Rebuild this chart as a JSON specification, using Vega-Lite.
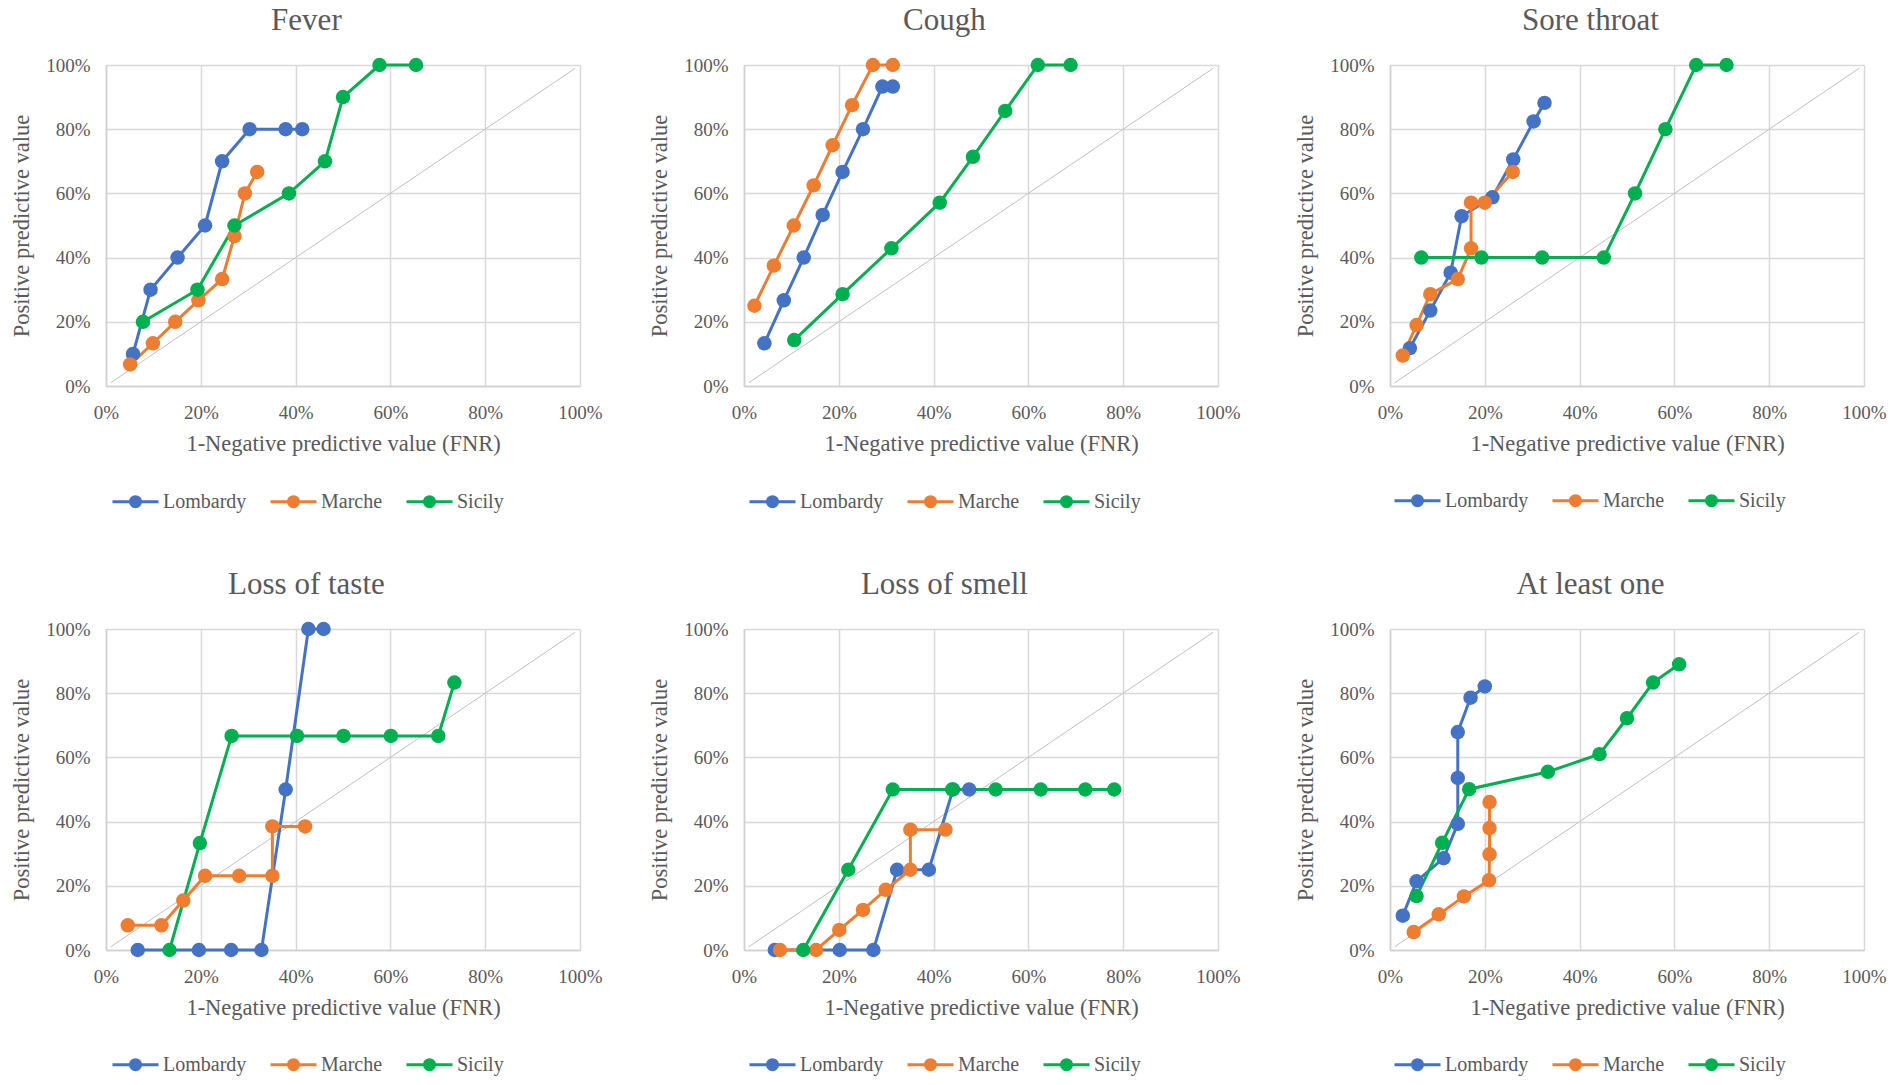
{
  "$schema": "https://vega.github.io/schema/vega-lite/v6.json",
  "background": "white",
  "padding": {"left": 10, "top": 5, "right": 0, "bottom": 0},
  "datasets": {
    "diag": [{"fnr": 1, "ppv": 1}, {"fnr": 99, "ppv": 99}],
    "pts": [
      {"panel": "Fever", "region": "Lombardy", "o": 1, "fnr": 5.7, "ppv": 10},
      {"panel": "Fever", "region": "Lombardy", "o": 2, "fnr": 9.4, "ppv": 30},
      {"panel": "Fever", "region": "Lombardy", "o": 3, "fnr": 15.1, "ppv": 40},
      {"panel": "Fever", "region": "Lombardy", "o": 4, "fnr": 20.9, "ppv": 50},
      {"panel": "Fever", "region": "Lombardy", "o": 5, "fnr": 24.5, "ppv": 70},
      {"panel": "Fever", "region": "Lombardy", "o": 6, "fnr": 30.3, "ppv": 80},
      {"panel": "Fever", "region": "Lombardy", "o": 7, "fnr": 37.9, "ppv": 80},
      {"panel": "Fever", "region": "Lombardy", "o": 8, "fnr": 41.4, "ppv": 80},
      {"panel": "Fever", "region": "Marche", "o": 1, "fnr": 5.1, "ppv": 6.7},
      {"panel": "Fever", "region": "Marche", "o": 2, "fnr": 9.9, "ppv": 13.3},
      {"panel": "Fever", "region": "Marche", "o": 3, "fnr": 14.6, "ppv": 20},
      {"panel": "Fever", "region": "Marche", "o": 4, "fnr": 19.5, "ppv": 26.7},
      {"panel": "Fever", "region": "Marche", "o": 5, "fnr": 24.5, "ppv": 33.3},
      {"panel": "Fever", "region": "Marche", "o": 6, "fnr": 27.1, "ppv": 46.7},
      {"panel": "Fever", "region": "Marche", "o": 7, "fnr": 29.3, "ppv": 60},
      {"panel": "Fever", "region": "Marche", "o": 8, "fnr": 31.9, "ppv": 66.7},
      {"panel": "Fever", "region": "Sicily", "o": 1, "fnr": 7.8, "ppv": 20},
      {"panel": "Fever", "region": "Sicily", "o": 2, "fnr": 19.3, "ppv": 30},
      {"panel": "Fever", "region": "Sicily", "o": 3, "fnr": 27.1, "ppv": 50},
      {"panel": "Fever", "region": "Sicily", "o": 4, "fnr": 38.6, "ppv": 60},
      {"panel": "Fever", "region": "Sicily", "o": 5, "fnr": 46.2, "ppv": 70},
      {"panel": "Fever", "region": "Sicily", "o": 6, "fnr": 50, "ppv": 90},
      {"panel": "Fever", "region": "Sicily", "o": 7, "fnr": 57.7, "ppv": 100},
      {"panel": "Fever", "region": "Sicily", "o": 8, "fnr": 65.4, "ppv": 100},

      {"panel": "Cough", "region": "Lombardy", "o": 1, "fnr": 4.3, "ppv": 13.3},
      {"panel": "Cough", "region": "Lombardy", "o": 2, "fnr": 8.4, "ppv": 26.7},
      {"panel": "Cough", "region": "Lombardy", "o": 3, "fnr": 12.6, "ppv": 40},
      {"panel": "Cough", "region": "Lombardy", "o": 4, "fnr": 16.6, "ppv": 53.3},
      {"panel": "Cough", "region": "Lombardy", "o": 5, "fnr": 20.8, "ppv": 66.7},
      {"panel": "Cough", "region": "Lombardy", "o": 6, "fnr": 25.1, "ppv": 80},
      {"panel": "Cough", "region": "Lombardy", "o": 7, "fnr": 29.2, "ppv": 93.3},
      {"panel": "Cough", "region": "Lombardy", "o": 8, "fnr": 31.4, "ppv": 93.3},
      {"panel": "Cough", "region": "Marche", "o": 1, "fnr": 2.2, "ppv": 25},
      {"panel": "Cough", "region": "Marche", "o": 2, "fnr": 6.3, "ppv": 37.5},
      {"panel": "Cough", "region": "Marche", "o": 3, "fnr": 10.5, "ppv": 50},
      {"panel": "Cough", "region": "Marche", "o": 4, "fnr": 14.7, "ppv": 62.5},
      {"panel": "Cough", "region": "Marche", "o": 5, "fnr": 18.7, "ppv": 75},
      {"panel": "Cough", "region": "Marche", "o": 6, "fnr": 22.8, "ppv": 87.5},
      {"panel": "Cough", "region": "Marche", "o": 7, "fnr": 27.2, "ppv": 100},
      {"panel": "Cough", "region": "Marche", "o": 8, "fnr": 31.4, "ppv": 100},
      {"panel": "Cough", "region": "Sicily", "o": 1, "fnr": 10.6, "ppv": 14.3},
      {"panel": "Cough", "region": "Sicily", "o": 2, "fnr": 20.8, "ppv": 28.6},
      {"panel": "Cough", "region": "Sicily", "o": 3, "fnr": 31.1, "ppv": 42.9},
      {"panel": "Cough", "region": "Sicily", "o": 4, "fnr": 41.3, "ppv": 57.1},
      {"panel": "Cough", "region": "Sicily", "o": 5, "fnr": 48.3, "ppv": 71.4},
      {"panel": "Cough", "region": "Sicily", "o": 6, "fnr": 55.1, "ppv": 85.7},
      {"panel": "Cough", "region": "Sicily", "o": 7, "fnr": 62, "ppv": 100},
      {"panel": "Cough", "region": "Sicily", "o": 8, "fnr": 68.9, "ppv": 100},

      {"panel": "Sore throat", "region": "Lombardy", "o": 1, "fnr": 4.2, "ppv": 11.8},
      {"panel": "Sore throat", "region": "Lombardy", "o": 2, "fnr": 8.5, "ppv": 23.5},
      {"panel": "Sore throat", "region": "Lombardy", "o": 3, "fnr": 12.8, "ppv": 35.3},
      {"panel": "Sore throat", "region": "Lombardy", "o": 4, "fnr": 15.1, "ppv": 52.9},
      {"panel": "Sore throat", "region": "Lombardy", "o": 5, "fnr": 21.6, "ppv": 58.8},
      {"panel": "Sore throat", "region": "Lombardy", "o": 6, "fnr": 26, "ppv": 70.6},
      {"panel": "Sore throat", "region": "Lombardy", "o": 7, "fnr": 30.3, "ppv": 82.4},
      {"panel": "Sore throat", "region": "Lombardy", "o": 8, "fnr": 32.6, "ppv": 88.2},
      {"panel": "Sore throat", "region": "Marche", "o": 1, "fnr": 2.7, "ppv": 9.5},
      {"panel": "Sore throat", "region": "Marche", "o": 2, "fnr": 5.6, "ppv": 19},
      {"panel": "Sore throat", "region": "Marche", "o": 3, "fnr": 8.5, "ppv": 28.6},
      {"panel": "Sore throat", "region": "Marche", "o": 4, "fnr": 14.3, "ppv": 33.3},
      {"panel": "Sore throat", "region": "Marche", "o": 5, "fnr": 17.1, "ppv": 42.9},
      {"panel": "Sore throat", "region": "Marche", "o": 6, "fnr": 17.1, "ppv": 57.1},
      {"panel": "Sore throat", "region": "Marche", "o": 7, "fnr": 20, "ppv": 57.1},
      {"panel": "Sore throat", "region": "Marche", "o": 8, "fnr": 25.9, "ppv": 66.7},
      {"panel": "Sore throat", "region": "Sicily", "o": 1, "fnr": 6.6, "ppv": 40},
      {"panel": "Sore throat", "region": "Sicily", "o": 2, "fnr": 19.3, "ppv": 40},
      {"panel": "Sore throat", "region": "Sicily", "o": 3, "fnr": 32.1, "ppv": 40},
      {"panel": "Sore throat", "region": "Sicily", "o": 4, "fnr": 45.1, "ppv": 40},
      {"panel": "Sore throat", "region": "Sicily", "o": 5, "fnr": 51.7, "ppv": 60},
      {"panel": "Sore throat", "region": "Sicily", "o": 6, "fnr": 58.1, "ppv": 80},
      {"panel": "Sore throat", "region": "Sicily", "o": 7, "fnr": 64.6, "ppv": 100},
      {"panel": "Sore throat", "region": "Sicily", "o": 8, "fnr": 71, "ppv": 100},

      {"panel": "Loss of taste", "region": "Lombardy", "o": 1, "fnr": 6.7, "ppv": 0},
      {"panel": "Loss of taste", "region": "Lombardy", "o": 2, "fnr": 19.6, "ppv": 0},
      {"panel": "Loss of taste", "region": "Lombardy", "o": 3, "fnr": 26.4, "ppv": 0},
      {"panel": "Loss of taste", "region": "Lombardy", "o": 4, "fnr": 32.8, "ppv": 0},
      {"panel": "Loss of taste", "region": "Lombardy", "o": 5, "fnr": 37.9, "ppv": 50},
      {"panel": "Loss of taste", "region": "Lombardy", "o": 6, "fnr": 42.7, "ppv": 100},
      {"panel": "Loss of taste", "region": "Lombardy", "o": 7, "fnr": 45.9, "ppv": 100},
      {"panel": "Loss of taste", "region": "Marche", "o": 1, "fnr": 4.6, "ppv": 7.7},
      {"panel": "Loss of taste", "region": "Marche", "o": 2, "fnr": 11.7, "ppv": 7.7},
      {"panel": "Loss of taste", "region": "Marche", "o": 3, "fnr": 16.3, "ppv": 15.4},
      {"panel": "Loss of taste", "region": "Marche", "o": 4, "fnr": 20.9, "ppv": 23.1},
      {"panel": "Loss of taste", "region": "Marche", "o": 5, "fnr": 28.1, "ppv": 23.1},
      {"panel": "Loss of taste", "region": "Marche", "o": 6, "fnr": 35.1, "ppv": 23.1},
      {"panel": "Loss of taste", "region": "Marche", "o": 7, "fnr": 35.1, "ppv": 38.5},
      {"panel": "Loss of taste", "region": "Marche", "o": 8, "fnr": 42, "ppv": 38.5},
      {"panel": "Loss of taste", "region": "Sicily", "o": 1, "fnr": 13.4, "ppv": 0},
      {"panel": "Loss of taste", "region": "Sicily", "o": 2, "fnr": 19.8, "ppv": 33.3},
      {"panel": "Loss of taste", "region": "Sicily", "o": 3, "fnr": 26.5, "ppv": 66.7},
      {"panel": "Loss of taste", "region": "Sicily", "o": 4, "fnr": 40.3, "ppv": 66.7},
      {"panel": "Loss of taste", "region": "Sicily", "o": 5, "fnr": 50.1, "ppv": 66.7},
      {"panel": "Loss of taste", "region": "Sicily", "o": 6, "fnr": 60.1, "ppv": 66.7},
      {"panel": "Loss of taste", "region": "Sicily", "o": 7, "fnr": 70.1, "ppv": 66.7},
      {"panel": "Loss of taste", "region": "Sicily", "o": 8, "fnr": 73.5, "ppv": 83.3},

      {"panel": "Loss of smell", "region": "Lombardy", "o": 1, "fnr": 6.5, "ppv": 0},
      {"panel": "Loss of smell", "region": "Lombardy", "o": 2, "fnr": 20.2, "ppv": 0},
      {"panel": "Loss of smell", "region": "Lombardy", "o": 3, "fnr": 27.3, "ppv": 0},
      {"panel": "Loss of smell", "region": "Lombardy", "o": 4, "fnr": 32.3, "ppv": 25},
      {"panel": "Loss of smell", "region": "Lombardy", "o": 5, "fnr": 39, "ppv": 25},
      {"panel": "Loss of smell", "region": "Lombardy", "o": 6, "fnr": 44.1, "ppv": 50},
      {"panel": "Loss of smell", "region": "Lombardy", "o": 7, "fnr": 47.5, "ppv": 50},
      {"panel": "Loss of smell", "region": "Marche", "o": 1, "fnr": 7.6, "ppv": 0},
      {"panel": "Loss of smell", "region": "Marche", "o": 2, "fnr": 15.2, "ppv": 0},
      {"panel": "Loss of smell", "region": "Marche", "o": 3, "fnr": 20.1, "ppv": 6.25},
      {"panel": "Loss of smell", "region": "Marche", "o": 4, "fnr": 25.1, "ppv": 12.5},
      {"panel": "Loss of smell", "region": "Marche", "o": 5, "fnr": 29.9, "ppv": 18.75},
      {"panel": "Loss of smell", "region": "Marche", "o": 6, "fnr": 35.1, "ppv": 25},
      {"panel": "Loss of smell", "region": "Marche", "o": 7, "fnr": 35.1, "ppv": 37.5},
      {"panel": "Loss of smell", "region": "Marche", "o": 8, "fnr": 42.5, "ppv": 37.5},
      {"panel": "Loss of smell", "region": "Sicily", "o": 1, "fnr": 12.5, "ppv": 0},
      {"panel": "Loss of smell", "region": "Sicily", "o": 2, "fnr": 22, "ppv": 25},
      {"panel": "Loss of smell", "region": "Sicily", "o": 3, "fnr": 31.4, "ppv": 50},
      {"panel": "Loss of smell", "region": "Sicily", "o": 4, "fnr": 43.9, "ppv": 50},
      {"panel": "Loss of smell", "region": "Sicily", "o": 5, "fnr": 53.1, "ppv": 50},
      {"panel": "Loss of smell", "region": "Sicily", "o": 6, "fnr": 62.6, "ppv": 50},
      {"panel": "Loss of smell", "region": "Sicily", "o": 7, "fnr": 72, "ppv": 50},
      {"panel": "Loss of smell", "region": "Sicily", "o": 8, "fnr": 78.1, "ppv": 50},

      {"panel": "At least one", "region": "Lombardy", "o": 1, "fnr": 2.7, "ppv": 10.7},
      {"panel": "At least one", "region": "Lombardy", "o": 2, "fnr": 5.6, "ppv": 21.4},
      {"panel": "At least one", "region": "Lombardy", "o": 3, "fnr": 11.3, "ppv": 28.6},
      {"panel": "At least one", "region": "Lombardy", "o": 4, "fnr": 14.3, "ppv": 39.3},
      {"panel": "At least one", "region": "Lombardy", "o": 5, "fnr": 14.3, "ppv": 53.6},
      {"panel": "At least one", "region": "Lombardy", "o": 6, "fnr": 14.3, "ppv": 67.9},
      {"panel": "At least one", "region": "Lombardy", "o": 7, "fnr": 17, "ppv": 78.6},
      {"panel": "At least one", "region": "Lombardy", "o": 8, "fnr": 20, "ppv": 82.1},
      {"panel": "At least one", "region": "Marche", "o": 1, "fnr": 5, "ppv": 5.6},
      {"panel": "At least one", "region": "Marche", "o": 2, "fnr": 10.3, "ppv": 11.1},
      {"panel": "At least one", "region": "Marche", "o": 3, "fnr": 15.6, "ppv": 16.7},
      {"panel": "At least one", "region": "Marche", "o": 4, "fnr": 20.9, "ppv": 21.7},
      {"panel": "At least one", "region": "Marche", "o": 5, "fnr": 21, "ppv": 29.8},
      {"panel": "At least one", "region": "Marche", "o": 6, "fnr": 21, "ppv": 38},
      {"panel": "At least one", "region": "Marche", "o": 7, "fnr": 21, "ppv": 46.1},
      {"panel": "At least one", "region": "Sicily", "o": 1, "fnr": 5.6, "ppv": 16.8},
      {"panel": "At least one", "region": "Sicily", "o": 2, "fnr": 11, "ppv": 33.4},
      {"panel": "At least one", "region": "Sicily", "o": 3, "fnr": 16.7, "ppv": 50.1},
      {"panel": "At least one", "region": "Sicily", "o": 4, "fnr": 33.3, "ppv": 55.5},
      {"panel": "At least one", "region": "Sicily", "o": 5, "fnr": 44.2, "ppv": 61},
      {"panel": "At least one", "region": "Sicily", "o": 6, "fnr": 50, "ppv": 72.2},
      {"panel": "At least one", "region": "Sicily", "o": 7, "fnr": 55.5, "ppv": 83.3},
      {"panel": "At least one", "region": "Sicily", "o": 8, "fnr": 61, "ppv": 89}
    ]
  },
  "resolve": {"scale": {"color": "independent"}, "legend": {"color": "independent"}},
  "spacing": 56,
  "vconcat": [
    {
      "resolve": {"scale": {"color": "independent"}, "legend": {"color": "independent"}},
      "spacing": 53,
      "hconcat": [
        {
          "resolve": {"scale": {"color": "independent"}, "legend": {"color": "independent"}},
          "spacing": 45,
          "hconcat": [
            {
              "title": "Fever", "width": 474, "height": 321,
              "layer": [
                {"data": {"name": "diag"}, "mark": {"type": "line", "color": "#c0c0c0", "strokeWidth": 1},
                 "encoding": {"x": {"field": "fnr", "type": "quantitative", "title": "1-Negative predictive value (FNR)", "scale": {"domain": [0, 100], "nice": false}, "axis": {"values": [0, 20, 40, 60, 80, 100], "labelExpr": "datum.value + '%'"}},
                              "y": {"field": "ppv", "type": "quantitative", "title": "Positive predictive value", "scale": {"domain": [0, 100], "nice": false}, "axis": {"values": [0, 20, 40, 60, 80, 100], "labelExpr": "datum.value + '%'"}}}},
                {"data": {"name": "pts"}, "transform": [{"filter": "datum.panel === 'Fever'"}], "mark": {"type": "line", "strokeWidth": 3},
                 "encoding": {"x": {"field": "fnr", "type": "quantitative"}, "y": {"field": "ppv", "type": "quantitative"}, "order": {"field": "o", "type": "quantitative"},
                              "color": {"field": "region", "type": "nominal", "scale": {"domain": ["Lombardy", "Marche", "Sicily"], "range": ["#4472C4", "#ED7D31", "#00B050"]},
                                        "legend": {"title": null, "orient": "none", "legendX": 5, "legendY": 412, "direction": "horizontal", "symbolType": "M-1,0L1,0M0.22,0A0.22,0.22 0 1,1 -0.22,0A0.22,0.22 0 1,1 0.22,0Z", "symbolStrokeWidth": 3}}}},
                {"data": {"name": "pts"}, "transform": [{"filter": "datum.panel === 'Fever'"}], "mark": {"type": "point", "filled": true, "size": 210, "opacity": 1},
                 "encoding": {"x": {"field": "fnr", "type": "quantitative"}, "y": {"field": "ppv", "type": "quantitative"},
                              "color": {"field": "region", "type": "nominal", "scale": {"domain": ["Lombardy", "Marche", "Sicily"], "range": ["#4472C4", "#ED7D31", "#00B050"]},
                                        "legend": {"title": null, "orient": "none", "legendX": 5, "legendY": 412, "direction": "horizontal", "symbolType": "M-1,0L1,0M0.22,0A0.22,0.22 0 1,1 -0.22,0A0.22,0.22 0 1,1 0.22,0Z", "symbolStrokeWidth": 3}}}}
              ]
            },
            {
              "title": "Cough", "width": 474, "height": 321,
              "layer": [
                {"data": {"name": "diag"}, "mark": {"type": "line", "color": "#c0c0c0", "strokeWidth": 1},
                 "encoding": {"x": {"field": "fnr", "type": "quantitative", "title": "1-Negative predictive value (FNR)", "scale": {"domain": [0, 100], "nice": false}, "axis": {"values": [0, 20, 40, 60, 80, 100], "labelExpr": "datum.value + '%'"}},
                              "y": {"field": "ppv", "type": "quantitative", "title": "Positive predictive value", "scale": {"domain": [0, 100], "nice": false}, "axis": {"values": [0, 20, 40, 60, 80, 100], "labelExpr": "datum.value + '%'"}}}},
                {"data": {"name": "pts"}, "transform": [{"filter": "datum.panel === 'Cough'"}], "mark": {"type": "line", "strokeWidth": 3},
                 "encoding": {"x": {"field": "fnr", "type": "quantitative"}, "y": {"field": "ppv", "type": "quantitative"}, "order": {"field": "o", "type": "quantitative"},
                              "color": {"field": "region", "type": "nominal", "scale": {"domain": ["Lombardy", "Marche", "Sicily"], "range": ["#4472C4", "#ED7D31", "#00B050"]},
                                        "legend": {"title": null, "orient": "none", "legendX": 4, "legendY": 412, "direction": "horizontal", "symbolType": "M-1,0L1,0M0.22,0A0.22,0.22 0 1,1 -0.22,0A0.22,0.22 0 1,1 0.22,0Z", "symbolStrokeWidth": 3}}}},
                {"data": {"name": "pts"}, "transform": [{"filter": "datum.panel === 'Cough'"}], "mark": {"type": "point", "filled": true, "size": 210, "opacity": 1},
                 "encoding": {"x": {"field": "fnr", "type": "quantitative"}, "y": {"field": "ppv", "type": "quantitative"},
                              "color": {"field": "region", "type": "nominal", "scale": {"domain": ["Lombardy", "Marche", "Sicily"], "range": ["#4472C4", "#ED7D31", "#00B050"]},
                                        "legend": {"title": null, "orient": "none", "legendX": 4, "legendY": 412, "direction": "horizontal", "symbolType": "M-1,0L1,0M0.22,0A0.22,0.22 0 1,1 -0.22,0A0.22,0.22 0 1,1 0.22,0Z", "symbolStrokeWidth": 3}}}}
              ]
            }
          ]
        },
        {
          "title": "Sore throat", "width": 474, "height": 321,
          "layer": [
            {"data": {"name": "diag"}, "mark": {"type": "line", "color": "#c0c0c0", "strokeWidth": 1},
             "encoding": {"x": {"field": "fnr", "type": "quantitative", "title": "1-Negative predictive value (FNR)", "scale": {"domain": [0, 100], "nice": false}, "axis": {"values": [0, 20, 40, 60, 80, 100], "labelExpr": "datum.value + '%'"}},
                          "y": {"field": "ppv", "type": "quantitative", "title": "Positive predictive value", "scale": {"domain": [0, 100], "nice": false}, "axis": {"values": [0, 20, 40, 60, 80, 100], "labelExpr": "datum.value + '%'"}}}},
            {"data": {"name": "pts"}, "transform": [{"filter": "datum.panel === 'Sore throat'"}], "mark": {"type": "line", "strokeWidth": 3},
             "encoding": {"x": {"field": "fnr", "type": "quantitative"}, "y": {"field": "ppv", "type": "quantitative"}, "order": {"field": "o", "type": "quantitative"},
                          "color": {"field": "region", "type": "nominal", "scale": {"domain": ["Lombardy", "Marche", "Sicily"], "range": ["#4472C4", "#ED7D31", "#00B050"]},
                                    "legend": {"title": null, "orient": "none", "legendX": 3, "legendY": 411, "direction": "horizontal", "symbolType": "M-1,0L1,0M0.22,0A0.22,0.22 0 1,1 -0.22,0A0.22,0.22 0 1,1 0.22,0Z", "symbolStrokeWidth": 3}}}},
            {"data": {"name": "pts"}, "transform": [{"filter": "datum.panel === 'Sore throat'"}], "mark": {"type": "point", "filled": true, "size": 210, "opacity": 1},
             "encoding": {"x": {"field": "fnr", "type": "quantitative"}, "y": {"field": "ppv", "type": "quantitative"},
                          "color": {"field": "region", "type": "nominal", "scale": {"domain": ["Lombardy", "Marche", "Sicily"], "range": ["#4472C4", "#ED7D31", "#00B050"]},
                                    "legend": {"title": null, "orient": "none", "legendX": 3, "legendY": 411, "direction": "horizontal", "symbolType": "M-1,0L1,0M0.22,0A0.22,0.22 0 1,1 -0.22,0A0.22,0.22 0 1,1 0.22,0Z", "symbolStrokeWidth": 3}}}}
          ]
        }
      ]
    },
    {
      "resolve": {"scale": {"color": "independent"}, "legend": {"color": "independent"}},
      "spacing": 53,
      "hconcat": [
        {
          "resolve": {"scale": {"color": "independent"}, "legend": {"color": "independent"}},
          "spacing": 45,
          "hconcat": [
            {
              "title": "Loss of taste", "width": 474, "height": 321,
              "layer": [
                {"data": {"name": "diag"}, "mark": {"type": "line", "color": "#c0c0c0", "strokeWidth": 1},
                 "encoding": {"x": {"field": "fnr", "type": "quantitative", "title": "1-Negative predictive value (FNR)", "scale": {"domain": [0, 100], "nice": false}, "axis": {"values": [0, 20, 40, 60, 80, 100], "labelExpr": "datum.value + '%'"}},
                              "y": {"field": "ppv", "type": "quantitative", "title": "Positive predictive value", "scale": {"domain": [0, 100], "nice": false}, "axis": {"values": [0, 20, 40, 60, 80, 100], "labelExpr": "datum.value + '%'"}}}},
                {"data": {"name": "pts"}, "transform": [{"filter": "datum.panel === 'Loss of taste'"}], "mark": {"type": "line", "strokeWidth": 3},
                 "encoding": {"x": {"field": "fnr", "type": "quantitative"}, "y": {"field": "ppv", "type": "quantitative"}, "order": {"field": "o", "type": "quantitative"},
                              "color": {"field": "region", "type": "nominal", "scale": {"domain": ["Lombardy", "Marche", "Sicily"], "range": ["#4472C4", "#ED7D31", "#00B050"]},
                                        "legend": {"title": null, "orient": "none", "legendX": 5, "legendY": 411, "direction": "horizontal", "symbolType": "M-1,0L1,0M0.22,0A0.22,0.22 0 1,1 -0.22,0A0.22,0.22 0 1,1 0.22,0Z", "symbolStrokeWidth": 3}}}},
                {"data": {"name": "pts"}, "transform": [{"filter": "datum.panel === 'Loss of taste'"}], "mark": {"type": "point", "filled": true, "size": 210, "opacity": 1},
                 "encoding": {"x": {"field": "fnr", "type": "quantitative"}, "y": {"field": "ppv", "type": "quantitative"},
                              "color": {"field": "region", "type": "nominal", "scale": {"domain": ["Lombardy", "Marche", "Sicily"], "range": ["#4472C4", "#ED7D31", "#00B050"]},
                                        "legend": {"title": null, "orient": "none", "legendX": 5, "legendY": 411, "direction": "horizontal", "symbolType": "M-1,0L1,0M0.22,0A0.22,0.22 0 1,1 -0.22,0A0.22,0.22 0 1,1 0.22,0Z", "symbolStrokeWidth": 3}}}}
              ]
            },
            {
              "title": "Loss of smell", "width": 474, "height": 321,
              "layer": [
                {"data": {"name": "diag"}, "mark": {"type": "line", "color": "#c0c0c0", "strokeWidth": 1},
                 "encoding": {"x": {"field": "fnr", "type": "quantitative", "title": "1-Negative predictive value (FNR)", "scale": {"domain": [0, 100], "nice": false}, "axis": {"values": [0, 20, 40, 60, 80, 100], "labelExpr": "datum.value + '%'"}},
                              "y": {"field": "ppv", "type": "quantitative", "title": "Positive predictive value", "scale": {"domain": [0, 100], "nice": false}, "axis": {"values": [0, 20, 40, 60, 80, 100], "labelExpr": "datum.value + '%'"}}}},
                {"data": {"name": "pts"}, "transform": [{"filter": "datum.panel === 'Loss of smell'"}], "mark": {"type": "line", "strokeWidth": 3},
                 "encoding": {"x": {"field": "fnr", "type": "quantitative"}, "y": {"field": "ppv", "type": "quantitative"}, "order": {"field": "o", "type": "quantitative"},
                              "color": {"field": "region", "type": "nominal", "scale": {"domain": ["Lombardy", "Marche", "Sicily"], "range": ["#4472C4", "#ED7D31", "#00B050"]},
                                        "legend": {"title": null, "orient": "none", "legendX": 4, "legendY": 411, "direction": "horizontal", "symbolType": "M-1,0L1,0M0.22,0A0.22,0.22 0 1,1 -0.22,0A0.22,0.22 0 1,1 0.22,0Z", "symbolStrokeWidth": 3}}}},
                {"data": {"name": "pts"}, "transform": [{"filter": "datum.panel === 'Loss of smell'"}], "mark": {"type": "point", "filled": true, "size": 210, "opacity": 1},
                 "encoding": {"x": {"field": "fnr", "type": "quantitative"}, "y": {"field": "ppv", "type": "quantitative"},
                              "color": {"field": "region", "type": "nominal", "scale": {"domain": ["Lombardy", "Marche", "Sicily"], "range": ["#4472C4", "#ED7D31", "#00B050"]},
                                        "legend": {"title": null, "orient": "none", "legendX": 4, "legendY": 411, "direction": "horizontal", "symbolType": "M-1,0L1,0M0.22,0A0.22,0.22 0 1,1 -0.22,0A0.22,0.22 0 1,1 0.22,0Z", "symbolStrokeWidth": 3}}}}
              ]
            }
          ]
        },
        {
          "title": "At least one", "width": 474, "height": 321,
          "layer": [
            {"data": {"name": "diag"}, "mark": {"type": "line", "color": "#c0c0c0", "strokeWidth": 1},
             "encoding": {"x": {"field": "fnr", "type": "quantitative", "title": "1-Negative predictive value (FNR)", "scale": {"domain": [0, 100], "nice": false}, "axis": {"values": [0, 20, 40, 60, 80, 100], "labelExpr": "datum.value + '%'"}},
                          "y": {"field": "ppv", "type": "quantitative", "title": "Positive predictive value", "scale": {"domain": [0, 100], "nice": false}, "axis": {"values": [0, 20, 40, 60, 80, 100], "labelExpr": "datum.value + '%'"}}}},
            {"data": {"name": "pts"}, "transform": [{"filter": "datum.panel === 'At least one'"}], "mark": {"type": "line", "strokeWidth": 3},
             "encoding": {"x": {"field": "fnr", "type": "quantitative"}, "y": {"field": "ppv", "type": "quantitative"}, "order": {"field": "o", "type": "quantitative"},
                          "color": {"field": "region", "type": "nominal", "scale": {"domain": ["Lombardy", "Marche", "Sicily"], "range": ["#4472C4", "#ED7D31", "#00B050"]},
                                    "legend": {"title": null, "orient": "none", "legendX": 3, "legendY": 411, "direction": "horizontal", "symbolType": "M-1,0L1,0M0.22,0A0.22,0.22 0 1,1 -0.22,0A0.22,0.22 0 1,1 0.22,0Z", "symbolStrokeWidth": 3}}}},
            {"data": {"name": "pts"}, "transform": [{"filter": "datum.panel === 'At least one'"}], "mark": {"type": "point", "filled": true, "size": 210, "opacity": 1},
             "encoding": {"x": {"field": "fnr", "type": "quantitative"}, "y": {"field": "ppv", "type": "quantitative"},
                          "color": {"field": "region", "type": "nominal", "scale": {"domain": ["Lombardy", "Marche", "Sicily"], "range": ["#4472C4", "#ED7D31", "#00B050"]},
                                    "legend": {"title": null, "orient": "none", "legendX": 3, "legendY": 411, "direction": "horizontal", "symbolType": "M-1,0L1,0M0.22,0A0.22,0.22 0 1,1 -0.22,0A0.22,0.22 0 1,1 0.22,0Z", "symbolStrokeWidth": 3}}}}
          ]
        }
      ]
    }
  ],
  "config": {
    "view": {"stroke": null},
    "font": "Liberation Serif",
    "title": {"font": "Liberation Serif", "fontSize": 31, "fontWeight": "normal", "color": "#595959", "offset": 19, "anchor": "middle", "frame": "bounds"},
    "axis": {"labelFont": "Liberation Serif", "labelFontSize": 19, "labelColor": "#595959", "titleFont": "Liberation Serif", "titleFontSize": 22.5, "titleFontWeight": "normal", "titleColor": "#595959", "grid": true, "gridColor": "#d9d9d9", "gridWidth": 1.5, "domainColor": "#d0d0d0", "domainWidth": 1.5, "ticks": false, "tickSize": 0, "labelFlush": false, "labelOverlap": false},
    "axisX": {"labelPadding": 17, "titlePadding": 10},
    "axisY": {"labelPadding": 16, "titlePadding": 12},
    "legend": {"symbolSize": 2116, "symbolOpacity": 1, "labelFont": "Liberation Serif", "labelFontSize": 20, "labelColor": "#595959", "labelOffset": 3, "columnPadding": 17, "padding": 0}
  }
}
